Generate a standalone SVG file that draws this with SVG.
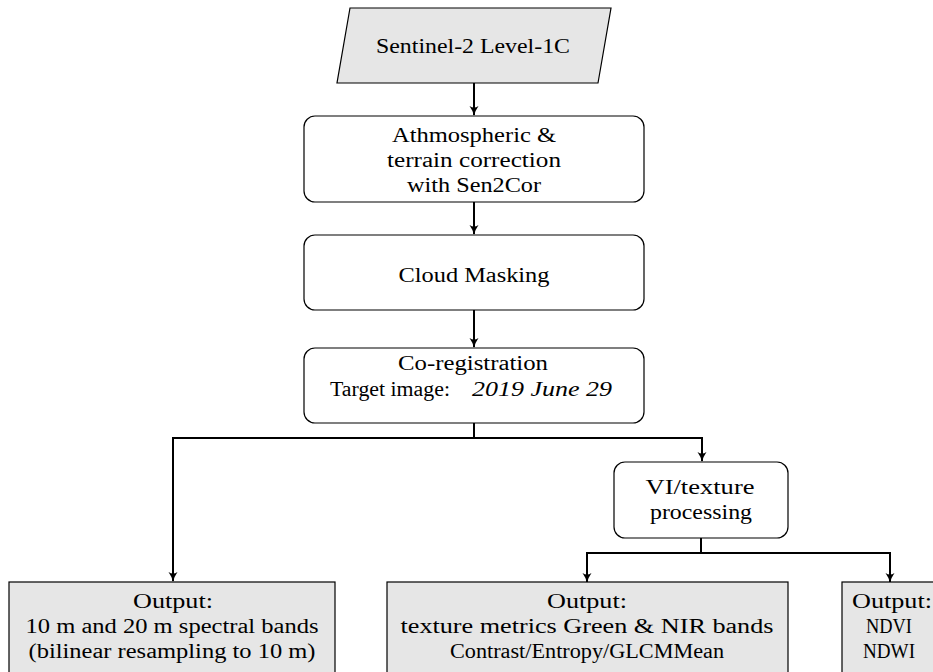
<svg xmlns="http://www.w3.org/2000/svg" width="933" height="672" viewBox="0 0 933 672">
<defs>
<marker id="arr" viewBox="0 0 10 10" refX="9" refY="5" markerWidth="10" markerHeight="10" markerUnits="userSpaceOnUse" orient="auto">
<path d="M0,0.5 Q4,3.5 10,5 Q4,6.5 0,9.5 Q3,5 0,0.5 Z" fill="#000"/>
</marker>
</defs>
<style>
.box{fill:#fff;stroke:#000;stroke-width:1.2}
.gray{fill:#e6e6e6;stroke:#000;stroke-width:1.2}
.t{font-family:"Liberation Serif","Times New Roman",serif;font-size:20.5px;fill:#000;text-anchor:middle}
.c{fill:none;stroke:#000;stroke-width:2}
.i{font-style:italic}
</style>
<rect width="933" height="672" fill="#fff"/>
<g id="connectors">
<line class="c" x1="474" y1="83" x2="474" y2="115" marker-end="url(#arr)"/>
<line class="c" x1="474" y1="202" x2="474" y2="234" marker-end="url(#arr)"/>
<line class="c" x1="474" y1="310" x2="474" y2="347" marker-end="url(#arr)"/>
<polyline class="c" points="474,423 474,438 173,438 173,581" marker-end="url(#arr)"/>
<polyline class="c" points="474,438 702,438 702,461" marker-end="url(#arr)"/>
<polyline class="c" points="701,538 701,553 587,553 587,582" marker-end="url(#arr)"/>
<polyline class="c" points="701,553 890,553 890,582" marker-end="url(#arr)"/>
</g>
<g id="input">
<polygon class="gray" points="350,8 611,8 598,83 337,83"/>
<text class="t" x="473" y="53" textLength="194" lengthAdjust="spacingAndGlyphs">Sentinel-2 Level-1C</text>
</g>
<g id="correction">
<rect class="box" x="304" y="116" width="340" height="86" rx="11"/>
<text class="t" x="474" y="142" textLength="164" lengthAdjust="spacingAndGlyphs">Athmospheric &amp;</text>
<text class="t" x="474" y="167" textLength="174" lengthAdjust="spacingAndGlyphs">terrain correction</text>
<text class="t" x="474" y="192" textLength="134" lengthAdjust="spacingAndGlyphs">with Sen2Cor</text>
</g>
<g id="cloud">
<rect class="box" x="304" y="235" width="340" height="75" rx="11"/>
<text class="t" x="474" y="282" textLength="151" lengthAdjust="spacingAndGlyphs">Cloud Masking</text>
</g>
<g id="coreg">
<rect class="box" x="304" y="348" width="340" height="75" rx="11"/>
<text class="t" x="473" y="370" textLength="150" lengthAdjust="spacingAndGlyphs">Co-registration</text>
<text class="t" x="390" y="396" textLength="120" lengthAdjust="spacingAndGlyphs">Target image:</text>
<text class="t i" x="542" y="396" textLength="140" lengthAdjust="spacingAndGlyphs">2019 June 29</text>
</g>
<g id="vi">
<rect class="box" x="614" y="462" width="174" height="76" rx="11"/>
<text class="t" x="700" y="494" textLength="109" lengthAdjust="spacingAndGlyphs">VI/texture</text>
<text class="t" x="701" y="519" textLength="102" lengthAdjust="spacingAndGlyphs">processing</text>
</g>
<g id="out-bands">
<rect class="gray" x="9" y="582" width="326" height="110"/>
<text class="t" x="173" y="608" textLength="80" lengthAdjust="spacingAndGlyphs">Output:</text>
<text class="t" x="172" y="633" textLength="293" lengthAdjust="spacingAndGlyphs">10 m and 20 m spectral bands</text>
<text class="t" x="172" y="658" textLength="287" lengthAdjust="spacingAndGlyphs">(bilinear resampling to 10 m)</text>
</g>
<g id="out-texture">
<rect class="gray" x="387" y="582" width="401" height="110"/>
<text class="t" x="587" y="608" textLength="80" lengthAdjust="spacingAndGlyphs">Output:</text>
<text class="t" x="587" y="633" textLength="373" lengthAdjust="spacingAndGlyphs">texture metrics Green &amp; NIR bands</text>
<text class="t" x="587" y="658" textLength="274" lengthAdjust="spacingAndGlyphs">Contrast/Entropy/GLCMMean</text>
</g>
<g id="out-vi">
<rect class="gray" x="842" y="582" width="96" height="110"/>
<text class="t" x="892" y="608" textLength="80" lengthAdjust="spacingAndGlyphs">Output:</text>
<text class="t" x="889" y="633" textLength="46" lengthAdjust="spacingAndGlyphs">NDVI</text>
<text class="t" x="889" y="658" textLength="52" lengthAdjust="spacingAndGlyphs">NDWI</text>
</g>
</svg>
